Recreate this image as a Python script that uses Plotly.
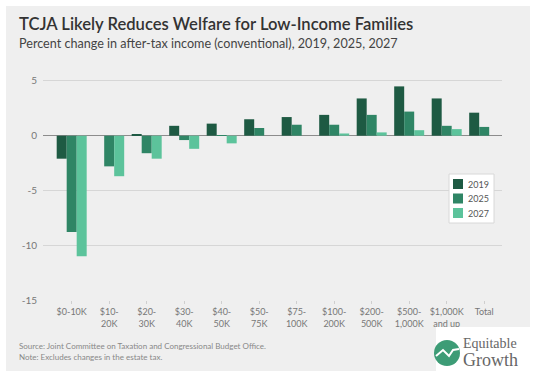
import plotly.graph_objects as go

categories = ["$0-10K", "$10-<br>20K", "$20-<br>30K", "$30-<br>40K", "$40-<br>50K", "$50-<br>75K",
              "$75-<br>100K", "$100-<br>200K", "$200-<br>500K", "$500-<br>1,000K", "$1,000K<br>and up", "Total"]
years = ["2019", "2025", "2027"]
v2019 = [-2.1, 0.0, 0.1, 0.9, 1.1, 1.5, 1.7, 1.9, 3.4, 4.5, 3.4, 2.1]
v2025 = [-8.8, -2.8, -1.6, -0.4, 0.05, 0.7, 1.0, 1.0, 1.9, 2.2, 0.9, 0.8]
v2027 = [-11.0, -3.7, -2.1, -1.2, -0.7, 0.0, 0.0, 0.2, 0.3, 0.5, 0.6, 0.0]
colors = ["#1e5a43", "#2f8565", "#5cc39b"]
ytick_vals = [-15, -10, -5, 0, 5]
ytick_text = ["-15", "-10", "-5", "0", "5"]

W, H = 540, 374
L, R, T, B = 43, 38, 59, 74
PW, PH = W - L - R, H - T - B

def px(x):
    return (x - L) / PW

def py(y):
    return (H - B - y) / PH

fig = go.Figure()
for name, vals, c in zip(years, [v2019, v2025, v2027], colors):
    fig.add_trace(go.Bar(x=list(range(len(categories))), y=vals, name=name,
                         marker=dict(color=c, line=dict(width=0))))

shapes = []
# white outer borders
for x0, y0, x1, y1 in [(0, 0, W, 6), (0, 0, 6, H), (530, 0, W, H), (0, 371, W, H)]:
    shapes.append(dict(type="rect", xref="paper", yref="paper", x0=px(x0), x1=px(x1),
                       y0=py(y1), y1=py(y0), fillcolor="white", line=dict(width=0), layer="above"))
# legend box
lx0, ly0, lx1, ly1 = 449, 174, 494, 223
shapes.append(dict(type="rect", xref="paper", yref="paper", x0=px(lx0), x1=px(lx1),
                   y0=py(ly1), y1=py(ly0), fillcolor="white", line=dict(color="#d8d8d8", width=1)))
annotations = []
for i, (name, c) in enumerate(zip(years, colors)):
    cy = 184 + i * 14.5
    shapes.append(dict(type="rect", xref="paper", yref="paper", x0=px(453), x1=px(463),
                       y0=py(cy + 5), y1=py(cy - 5), fillcolor=c, line=dict(width=0)))
    annotations.append(dict(text=name, xref="paper", yref="paper", x=px(466), y=py(cy),
                            xanchor="left", yanchor="middle", showarrow=False,
                            font=dict(family="Lato", size=9, color="#555")))

# logo
shapes.append(dict(type="rect", xref="paper", yref="paper", x0=px(436), x1=px(W),
                   y0=py(H), y1=py(327), fillcolor="white", line=dict(width=0), layer="above"))
shapes.append(dict(type="circle", xref="paper", yref="paper", x0=px(434), x1=px(460),
                   y0=py(366), y1=py(340), fillcolor="#3d9c76", line=dict(width=0), layer="above"))
shapes.append(dict(type="path", xref="paper", yref="paper", layer="above",
                   path="M {} {} L {} {} L {} {} L {} {} L {} {}".format(
                       px(436), py(356), px(443), py(350), px(449), py(356), px(453), py(350), px(459), py(349)),
                   line=dict(color="white", width=2)))
annotations.append(dict(text="Equitable<br><span style='font-size:18px'>Growth</span>", xref="paper",
                        yref="paper", x=px(461), y=py(353), align="left",
                        xanchor="left", yanchor="middle", showarrow=False,
                        font=dict(family="Liberation Serif", size=14, color="#666")))

# titles and notes
annotations.append(dict(text="TCJA Likely Reduces Welfare for Low-Income Families", xref="paper", yref="paper",
                        x=px(17), y=py(24), xanchor="left", yanchor="middle", showarrow=False,
                        font=dict(family="Lato", size=16.6, color="#333", weight=600)))
annotations.append(dict(text="Percent change in after-tax income (conventional), 2019, 2025, 2027", xref="paper",
                        yref="paper", x=px(17), y=py(43), xanchor="left", yanchor="middle", showarrow=False,
                        font=dict(family="Lato", size=12.6, color="#444")))
annotations.append(dict(text="Source: Joint Committee on Taxation and Congressional Budget Office.", xref="paper",
                        yref="paper", x=px(17), y=py(346), xanchor="left", yanchor="middle", showarrow=False,
                        font=dict(family="Lato", size=8, color="#888")))
annotations.append(dict(text="Note: Excludes changes in the estate tax.", xref="paper",
                        yref="paper", x=px(17), y=py(357), xanchor="left", yanchor="middle", showarrow=False,
                        font=dict(family="Lato", size=8, color="#888")))

fig.update_layout(
    width=W, height=H, autosize=False,
    margin=dict(l=L, r=R, t=T, b=B, pad=0),
    paper_bgcolor="#efefef", plot_bgcolor="#efefef",
    barmode="group", bargap=0.2, bargroupgap=0,
    showlegend=False,
    shapes=shapes, annotations=annotations,
    font=dict(family="Lato", color="#777"),
    xaxis=dict(range=[-0.765, 11.475], tickvals=list(range(len(categories))), ticktext=categories,
               showgrid=False, zeroline=False, ticks="outside", ticklen=3, tickcolor="#cfcfcf",
               tickfont=dict(size=9, color="#777"), showline=False),
    yaxis=dict(range=[-15, 7], tickvals=ytick_vals, ticktext=ytick_text, showgrid=True,
               gridcolor="#d6d6d6", gridwidth=1, zeroline=True, zerolinecolor="#8c8c8c",
               zerolinewidth=1, tickfont=dict(size=10, color="#777"), ticks="", ticklabelstandoff=5),
)
fig.write_html("out.html", config={"displayModeBar": False},
               post_script="document.body.style.margin='0';")
